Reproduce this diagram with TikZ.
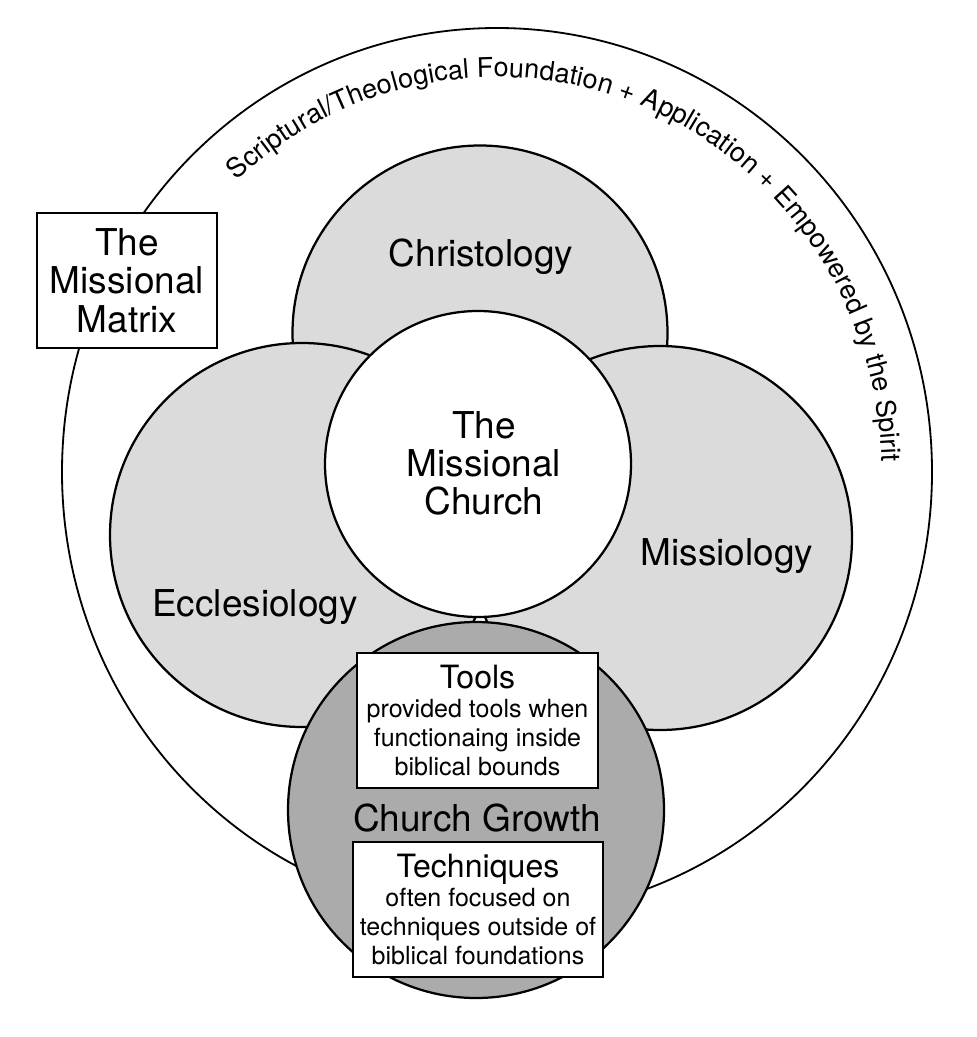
\documentclass[tikz,border=0pt]{standalone}
\usepackage{fontspec}
\setmainfont{TeX Gyre Heros}
\usetikzlibrary{decorations.text}
\newcommand\arcfont{\fontsize{19.2}{20}\selectfont}
\tikzset{every picture/.style={x=0.025cm, y=0.025cm}}
\tikzset{
    bubble/.style={draw=black, line width=1.6pt},
    pale/.style={fill=black!14},
    bigtext/.style={font=\fontsize{26.3}{27}\selectfont, align=center, inner sep=0pt},
    labelbox/.style={draw=black, fill=white, line width=1.6pt, align=center, inner sep=0pt,
        font=\fontsize{17.8}{20.6}\selectfont, minimum height=3.375cm},
    headtext/.style={font=\fontsize{22.8}{24}\selectfont}
}

\begin{document}
\begin{tikzpicture}
    % Page frame
    \useasboundingbox (0,0) rectangle (976,-1037);

    % Define centres
    \coordinate (outer) at (497,-472);
    \coordinate (christ) at (480,-333);
    \coordinate (eccl) at (302,-535);
    \coordinate (miss) at (660,-538);
    \coordinate (core) at (478,-464);
    \coordinate (growth) at (476,-810);

    % Outer ring
    \draw[line width=1.3pt] (outer) ellipse [x radius=435, y radius=444];

    % Text along the ring
    \path[decorate, decoration={text along path, text align=center,
        text={|\arcfont|Scriptural/Theological Foundation + Application + Empowered by the Spirit}}]
        (outer) ++(134:385 and 395) arc [start angle=134, end angle=0, x radius=385, y radius=395];

    % Three light circles
    \filldraw[bubble, pale] (christ) circle (187.5);
    \filldraw[bubble, pale] (eccl) circle (192);
    \filldraw[bubble, pale] (miss) circle (192);

    % Centre and bottom circles
    \filldraw[bubble, fill=white] (core) circle (153);
    \filldraw[bubble, fill=black!33] (growth) circle (188);

    % Circle labels
    \node[bigtext] (christlabel) at (481,-257) {Christology};
    \node[bigtext] (eccllabel) at (255,-607) {Ecclesiology};
    \node[bigtext] (misslabel) at (727,-556) {Missiology};
    \node[bigtext] (corelabel) at (484,-463) {The\\Missional\\Church};
    \node[bigtext] (growthlabel) at (477,-818) {Church Growth};

    % Boxes
    \node[labelbox, font=\fontsize{26.3}{27.3}\selectfont, minimum width=4.5cm] (matrix) at (127,-280.5)
        {The\\Missional\\Matrix};
    \node[labelbox, minimum width=6.025cm] (tools) at (477.5,-720.5)
        {{\fontsize{22.8}{24}\selectfont Tools}\\provided tools when\\functionaing inside\\biblical bounds};
    \node[labelbox, minimum width=6.25cm] (tech) at (478,-909.5)
        {{\fontsize{22.8}{24}\selectfont Techniques}\\often focused on\\techniques outside of\\biblical foundations};
\end{tikzpicture}
\end{document}
